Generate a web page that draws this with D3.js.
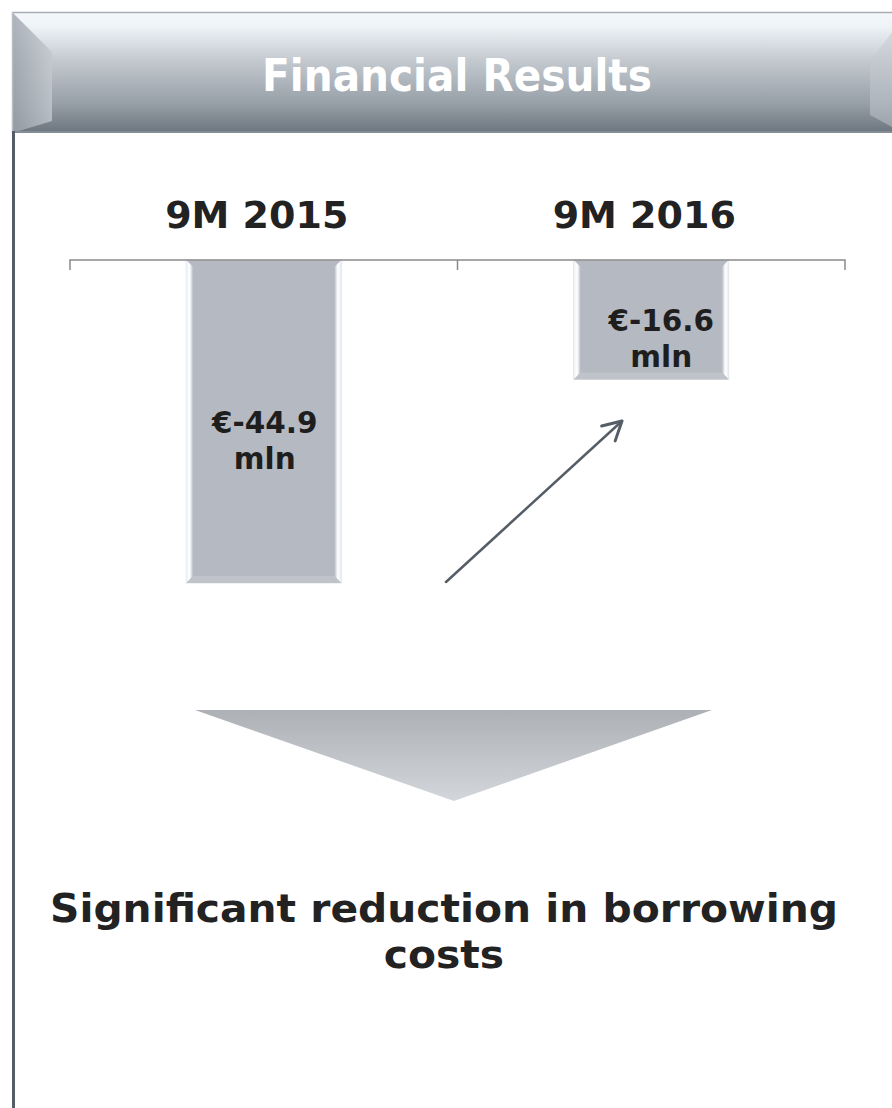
<!DOCTYPE html>
<html>
<head>
<meta charset="utf-8">
<script src="https://cdn.jsdelivr.net/npm/d3@7"></script>
<style>
  html, body { margin: 0; padding: 0; background: #ffffff; }
  svg { display: block; }
</style>
</head>
<body>
<script>
// Financial results, nine-month comparison (EUR million)
const categories = ["9M 2015", "9M 2016"];
const values = [-44.9, -16.6];
const valueLabels = ["€-44.9", "€-16.6"];
const unitLabel = "mln";
const title = "Financial Results";
const conclusion = ["Significant reduction in borrowing", "costs"];

const W = 892, H = 1108;
const FONT = "'DejaVu Sans', Verdana, sans-serif";
const svg = d3.select("body").append("svg").attr("width", W).attr("height", H);
const defs = svg.append("defs");

// stretch a text element horizontally (about cx) so its first line spans `width`
function fitWidth(textSel, cx, width) {
  const node = textSel.node();
  const first = node.querySelector("tspan") || node;
  const w = first.getComputedTextLength();
  const k = width / w;
  textSel.attr("transform", `translate(${cx},0) scale(${k},1) translate(${-cx},0)`);
}

// ---- gradients ----
const hdrGrad = defs.append("linearGradient").attr("id", "hdrGrad")
  .attr("x1", 0).attr("y1", 0).attr("x2", 0).attr("y2", 1);
[[0, "#f4f8fb"], [0.12, "#eef3f7"], [0.4, "#c3c9cf"], [0.75, "#98a0a8"], [1, "#6c747d"]]
  .forEach(([o, c]) => hdrGrad.append("stop").attr("offset", o).attr("stop-color", c));

const bevelL = defs.append("linearGradient").attr("id", "bevelL")
  .attr("x1", 0).attr("y1", 0).attr("x2", 1).attr("y2", 0);
[[0, "#9aa1a9"], [1, "#c2c8ce"]]
  .forEach(([o, c]) => bevelL.append("stop").attr("offset", o).attr("stop-color", c));

const triGrad = defs.append("linearGradient").attr("id", "triGrad")
  .attr("x1", 0).attr("y1", 0).attr("x2", 0).attr("y2", 1);
[[0, "#adb1b6"], [1, "#d3d6da"]]
  .forEach(([o, c]) => triGrad.append("stop").attr("offset", o).attr("stop-color", c));

const edgeL = defs.append("linearGradient").attr("id", "edgeL")
  .attr("x1", 0).attr("y1", 0).attr("x2", 1).attr("y2", 0);
[[0, "#eef2f6"], [0.5, "#ffffff"], [1, "#b5b9c1"]]
  .forEach(([o, c]) => edgeL.append("stop").attr("offset", o).attr("stop-color", c));
const edgeR = defs.append("linearGradient").attr("id", "edgeR")
  .attr("x1", 0).attr("y1", 0).attr("x2", 1).attr("y2", 0);
[[0, "#b5b9c1"], [0.5, "#ffffff"], [1, "#e8ecf0"]]
  .forEach(([o, c]) => edgeR.append("stop").attr("offset", o).attr("stop-color", c));

// ---- header banner ----
const hdr = { x: 12, y: 12, w: 900, h: 121, bev: 40 };
svg.append("rect").attr("x", hdr.x).attr("y", hdr.y).attr("width", hdr.w).attr("height", hdr.h)
  .attr("fill", "url(#hdrGrad)");
svg.append("path")
  .attr("d", `M${hdr.x},${hdr.y} L${hdr.x + hdr.bev},${hdr.y + hdr.bev} L${hdr.x + hdr.bev},${hdr.y + hdr.h - 12} L${hdr.x},${hdr.y + hdr.h} Z`)
  .attr("fill", "url(#bevelL)").attr("opacity", 0.8);
svg.append("path")
  .attr("d", `M${W},${hdr.y + 20} L${W - 22},${hdr.y + 50} L${W - 22},${hdr.y + hdr.h - 18} L${W},${hdr.y + hdr.h - 6} Z`)
  .attr("fill", "#c4cad0").attr("opacity", 0.5);
svg.append("line").attr("x1", hdr.x).attr("x2", W).attr("y1", hdr.y + 0.5).attr("y2", hdr.y + 0.5)
  .attr("stroke", "#a6adb4").attr("stroke-width", 1.5);
svg.append("line").attr("x1", hdr.x).attr("x2", W).attr("y1", hdr.y + hdr.h - 1).attr("y2", hdr.y + hdr.h - 1)
  .attr("stroke", "#858d95").attr("stroke-width", 2);
svg.append("line").attr("x1", hdr.x + 0.5).attr("x2", hdr.x + 0.5).attr("y1", hdr.y).attr("y2", hdr.y + hdr.h)
  .attr("stroke", "#b8bec4").attr("stroke-width", 1.5);
const hdrText = svg.append("text").attr("x", 457).attr("y", 91).attr("text-anchor", "middle")
  .attr("font-family", FONT).attr("font-weight", "bold").attr("font-size", 45).attr("fill", "#ffffff")
  .text(title);
fitWidth(hdrText, 457, 390);

// left frame rule
svg.append("line").attr("x1", 13.5).attr("x2", 13.5).attr("y1", hdr.y + hdr.h - 2).attr("y2", H)
  .attr("stroke", "#555d66").attr("stroke-width", 3);

// ---- chart ----
const band = d3.scaleBand().domain(categories).range([70, 845]);
const x = d3.scaleBand().domain(categories).range([70, 845]).paddingInner(0.6).paddingOuter(0.3);
const y = d3.scaleLinear().domain([-44.9, 0]).range([583, 260]);
const catDx = -7;          // headings sit slightly left of the bar centres
const labelDx = [1, 10];   // value labels nudge right inside each bar

// category headings
svg.selectAll("text.cat").data(categories).join("text").attr("class", "cat")
  .attr("x", d => band(d) + band.bandwidth() / 2 + catDx).attr("y", 228)
  .attr("text-anchor", "middle")
  .attr("font-family", FONT).attr("font-weight", "bold")
  .attr("font-size", 38).attr("fill", "#222222")
  .text(d => d);

// bars with bevelled edges
const bars = svg.selectAll("g.bar").data(categories.map((c, i) => ({ c, i, v: values[i], lab: valueLabels[i] })))
  .join("g").attr("class", "bar");
const bw = x.bandwidth();
const e = 7;
bars.append("rect")
  .attr("x", d => x(d.c)).attr("y", y(0)).attr("width", bw).attr("height", d => y(d.v) - y(0))
  .attr("fill", "#b5b9c1").attr("stroke", "#e2e5e8").attr("stroke-width", 1);
bars.append("path")
  .attr("d", d => { const x0 = x(d.c), y0 = y(0), y1 = y(d.v);
    return `M${x0},${y0} L${x0 + e},${y0 + e} L${x0 + e},${y1 - e} L${x0},${y1} Z`; })
  .attr("fill", "url(#edgeL)");
bars.append("path")
  .attr("d", d => { const x1 = x(d.c) + bw, y0 = y(0), y1 = y(d.v);
    return `M${x1},${y0} L${x1 - e},${y0 + e} L${x1 - e},${y1 - e} L${x1},${y1} Z`; })
  .attr("fill", "url(#edgeR)");
bars.append("path")
  .attr("d", d => { const x0 = x(d.c), x1 = x0 + bw, y1 = y(d.v);
    return `M${x0},${y1} L${x0 + e},${y1 - e} L${x1 - e},${y1 - e} L${x1},${y1} Z`; })
  .attr("fill", "#c0c4ca");

// value labels inside bars
bars.each(function (d) {
  const g = d3.select(this);
  const cx = x(d.c) + bw / 2 + labelDx[d.i];
  const cy = (y(0) + y(d.v)) / 2;
  const t = g.append("text").attr("text-anchor", "middle")
    .attr("font-family", FONT).attr("font-weight", "bold")
    .attr("font-size", 29.5).attr("fill", "#1e1e1e");
  t.append("tspan").attr("x", cx).attr("y", cy + 11).text(d.lab);
  t.append("tspan").attr("x", cx).attr("y", cy + 47).text(unitLabel);
});

// category axis along the zero line, ticks at band boundaries
const bounds = [band.range()[0], ...categories.map(c => band(c) + band.bandwidth())];
svg.append("path")
  .attr("d", `M${bounds[0]},${y(0) + 10} L${bounds[0]},${y(0)} L${bounds[bounds.length - 1]},${y(0)} L${bounds[bounds.length - 1]},${y(0) + 10}`)
  .attr("fill", "none").attr("stroke", "#8a8a8a").attr("stroke-width", 1.5);
bounds.slice(1, -1).forEach(b => svg.append("line")
  .attr("x1", b).attr("x2", b).attr("y1", y(0)).attr("y2", y(0) + 10)
  .attr("stroke", "#8a8a8a").attr("stroke-width", 1.5));

// trend arrow
const ah = 21;
const ax0 = 446, ay0 = 582, ax1 = 622, ay1 = 421;
const ang = Math.atan2(ay1 - ay0, ax1 - ax0);
svg.append("line").attr("x1", ax0).attr("y1", ay0).attr("x2", ax1).attr("y2", ay1)
  .attr("stroke", "#555d66").attr("stroke-width", 2.5).attr("stroke-linecap", "round");
svg.append("path")
  .attr("d", `M${ax1 + ah * Math.cos(ang + Math.PI - 0.5)},${ay1 + ah * Math.sin(ang + Math.PI - 0.5)} L${ax1},${ay1} L${ax1 + ah * Math.cos(ang + Math.PI + 0.5)},${ay1 + ah * Math.sin(ang + Math.PI + 0.5)}`)
  .attr("fill", "none").attr("stroke", "#555d66").attr("stroke-width", 3)
  .attr("stroke-linecap", "round").attr("stroke-linejoin", "round");

// downward chevron
svg.append("path").attr("d", "M195,710 L712,710 L454,801 Z").attr("fill", "url(#triGrad)");

// conclusion
const ct = svg.append("text").attr("text-anchor", "middle")
  .attr("font-family", FONT).attr("font-weight", "bold").attr("font-size", 39).attr("fill", "#222222");
conclusion.forEach((line, i) => ct.append("tspan").attr("x", 444).attr("y", 922 + i * 46).text(line));
fitWidth(ct, 444, 788);
</script>
</body>
</html>
